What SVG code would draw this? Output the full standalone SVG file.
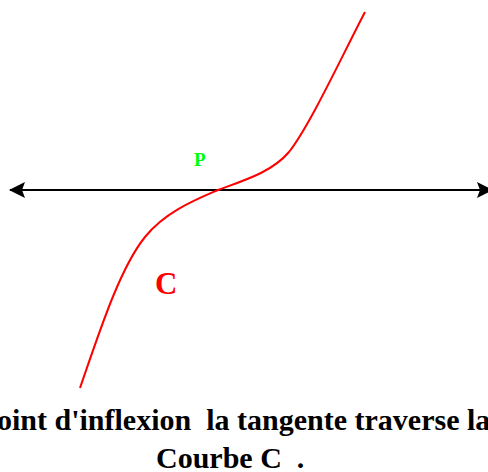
<svg xmlns="http://www.w3.org/2000/svg" width="488" height="472" viewBox="0 0 488 472">
<style>
.t{font-family:"Liberation Serif","Times New Roman",serif;font-weight:bold}
</style>
<defs>
<marker id="ah" viewBox="0 0 16 16" refX="15" refY="8" markerWidth="16" markerHeight="16" markerUnits="userSpaceOnUse" orient="auto-start-reverse">
<path d="M0,0 L16,8 L0,16 L3,8 Z" fill="#000"/>
</marker>
</defs>
<rect width="488" height="472" fill="#fff"/>
<g id="connectors">
<line id="tangent" x1="10" y1="190" x2="492" y2="190" stroke="#000" stroke-width="2" marker-start="url(#ah)" marker-end="url(#ah)"/>
</g>
<g id="curve">
<path d="M80,388 C100,330 120,268 145,237 C165,212 195,200 218,190 C245,180 272,172 289,152 C310,125 340,60 365,12" fill="none" stroke="#f00" stroke-width="2"/>
</g>
<g id="labelP"><text class="t" x="194" y="166" font-size="19" fill="#0f0">P</text></g>
<g id="labelC"><text class="t" x="155" y="294" font-size="31" fill="#f00">C</text></g>
<g id="caption">
<text class="t" x="-3" y="430" font-size="30" fill="#000" xml:space="preserve">oint d'inflexion  la tangente traverse la</text>
<text class="t" x="156" y="468" font-size="30" fill="#000" xml:space="preserve">Courbe C  .</text>
</g>
</svg>
